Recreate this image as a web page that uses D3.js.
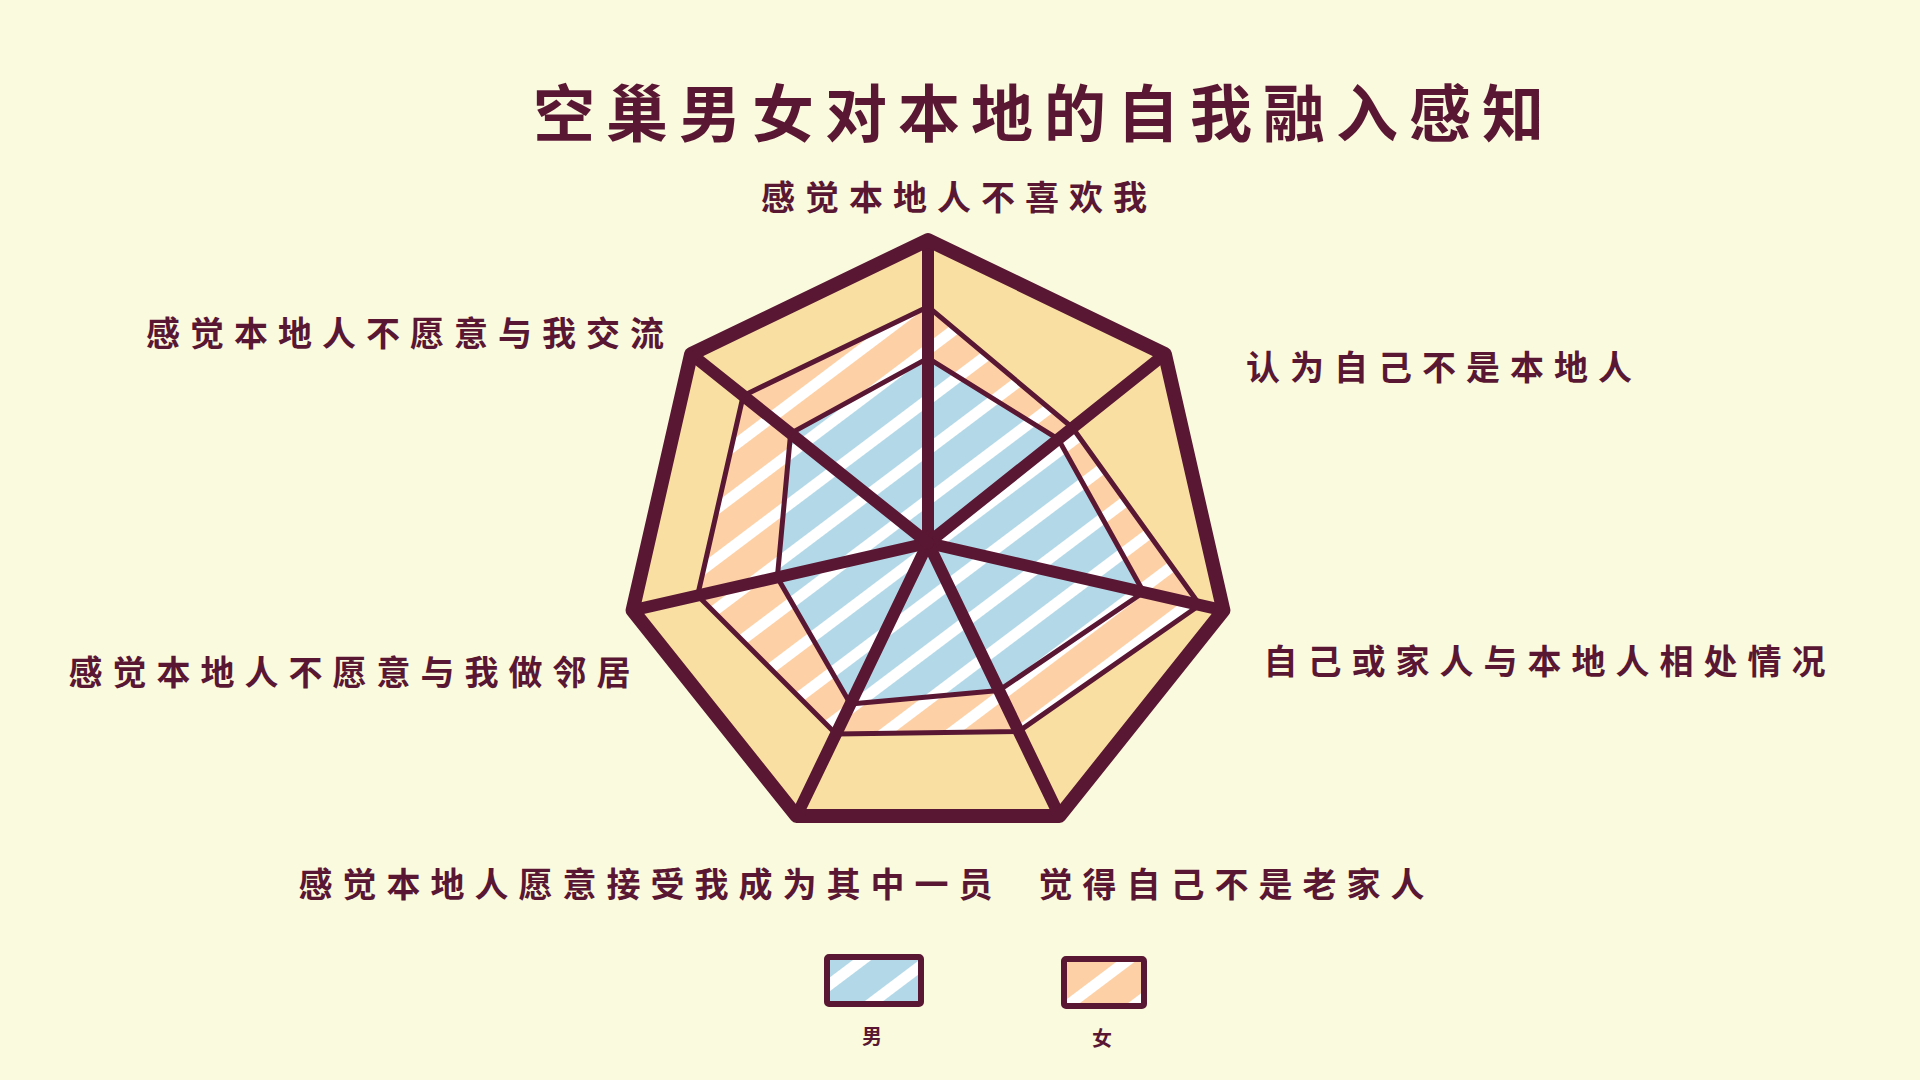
<!DOCTYPE html>
<html>
<head>
<meta charset="utf-8">
<title>空巢男女对本地的自我融入感知</title>
<style>
  body { margin: 0; padding: 0; background: #fafadf; }
  svg { display: block; }
  text { font-family: "Noto Sans CJK SC", "Noto Sans", sans-serif; fill: #5a1733; font-weight: 700; }
</style>
</head>
<body>
<div id="chart"></div>
<script src="https://d3js.org/d3.v7.min.js"></script>
<script>
// axes, clockwise from the top
const axes = [
  "感觉本地人不喜欢我",
  "认为自己不是本地人",
  "自己或家人与本地人相处情况",
  "觉得自己不是老家人",
  "感觉本地人愿意接受我成为其中一员",
  "感觉本地人不愿意与我做邻居",
  "感觉本地人不愿意与我交流"
];
const maleValues = [3.05, 2.75, 3.65, 2.7, 2.95, 2.55, 2.9];
const femaleValues = [3.9, 3.05, 4.6, 3.45, 3.5, 3.9, 3.9];
const maxValue = 5;
const seriesNames = ["男", "女"];
const title = "空巢男女对本地的自我融入感知";

// layout
const width = 1920, height = 1080;
const cx = 928, cy = 543, R = 303;
const ink = "#5a1733";
// label nudges from each outer vertex: [dx, dy, anchor]
const labelNudge = [
  [26, -45, "middle"],
  [81, 11, "start"],
  [40, 49, "start"],
  [-21, 67, "start"],
  [196, 67, "end"],
  [-2, 60, "end"],
  [-27, -23, "end"]
];
const labelSpacing = 10;

const svg = d3.select("#chart").append("svg")
  .attr("width", width)
  .attr("height", height);

svg.append("rect").attr("width", width).attr("height", height).attr("fill", "#fafadf");

// striped fills
const defs = svg.append("defs");
function stripes(id, color) {
  const p = defs.append("pattern")
    .attr("id", id)
    .attr("patternUnits", "userSpaceOnUse")
    .attr("width", 40).attr("height", 40)
    .attr("patternTransform", "rotate(-37)");
  p.append("rect").attr("width", 40).attr("height", 40).attr("fill", color);
  p.append("rect").attr("y", 0).attr("width", 40).attr("height", 11).attr("fill", "#ffffff");
}
stripes("maleFill", "#b3d9e8");
stripes("femaleFill", "#fdd0a6");

// scales
const angle = d3.scaleLinear().domain([0, axes.length]).range([0, 2 * Math.PI]);
const r = d3.scaleLinear().domain([0, maxValue]).range([0, R]);

const radial = d3.lineRadial()
  .angle((d, i) => angle(i))
  .radius(d => r(d))
  .curve(d3.curveLinearClosed);

const g = svg.append("g").attr("transform", `translate(${cx},${cy})`);
const outer = axes.map(() => maxValue);

// outer area
g.append("path")
  .attr("d", radial(outer))
  .attr("fill", "#f9e0a2");

// series areas
g.append("path")
  .attr("d", radial(femaleValues))
  .attr("fill", "url(#femaleFill)")
  .attr("stroke", ink)
  .attr("stroke-width", 5)
  .attr("stroke-linejoin", "round");

g.append("path")
  .attr("d", radial(maleValues))
  .attr("fill", "url(#maleFill)")
  .attr("stroke", ink)
  .attr("stroke-width", 5)
  .attr("stroke-linejoin", "round");

// spokes
g.selectAll("line.spoke")
  .data(axes)
  .join("line")
  .attr("class", "spoke")
  .attr("x1", 0).attr("y1", 0)
  .attr("x2", (d, i) => r(maxValue) * Math.sin(angle(i)))
  .attr("y2", (d, i) => -r(maxValue) * Math.cos(angle(i)))
  .attr("stroke", ink)
  .attr("stroke-width", 12)
  .attr("stroke-linecap", "round");

// outer border
g.append("path")
  .attr("d", radial(outer))
  .attr("fill", "none")
  .attr("stroke", ink)
  .attr("stroke-width", 14)
  .attr("stroke-linejoin", "round");

// axis labels
g.selectAll("text.axis")
  .data(axes)
  .join("text")
  .attr("class", "axis")
  .attr("x", (d, i) => r(maxValue) * Math.sin(angle(i)) + labelNudge[i][0]
    + (labelNudge[i][2] === "end" ? labelSpacing : labelNudge[i][2] === "middle" ? labelSpacing / 2 : 0))
  .attr("y", (d, i) => -r(maxValue) * Math.cos(angle(i)) + labelNudge[i][1])
  .attr("text-anchor", (d, i) => labelNudge[i][2])
  .attr("dominant-baseline", "central")
  .attr("font-size", 34)
  .attr("letter-spacing", labelSpacing)
  .text(d => d);

// title
svg.append("text")
  .attr("x", 1039 + 5)
  .attr("y", 110)
  .attr("text-anchor", "middle")
  .attr("dominant-baseline", "central")
  .attr("font-size", 62)
  .attr("letter-spacing", 11)
  .text(title);

// legend
const legendBoxes = [
  { x: 827, y: 957, w: 94, h: 47, fill: "url(#maleFill)" },
  { x: 1064, y: 959, w: 80, h: 47, fill: "url(#femaleFill)" }
];
const legend = svg.append("g").selectAll("g")
  .data(seriesNames)
  .join("g");

legend.append("rect")
  .attr("x", (d, i) => legendBoxes[i].x)
  .attr("y", (d, i) => legendBoxes[i].y)
  .attr("width", (d, i) => legendBoxes[i].w)
  .attr("height", (d, i) => legendBoxes[i].h)
  .attr("rx", 2)
  .attr("fill", (d, i) => legendBoxes[i].fill)
  .attr("stroke", ink)
  .attr("stroke-width", 6);

legend.append("text")
  .attr("x", (d, i) => legendBoxes[i].x + legendBoxes[i].w / 2 - 2)
  .attr("y", (d, i) => legendBoxes[i].y + 78)
  .attr("text-anchor", "middle")
  .attr("dominant-baseline", "central")
  .attr("font-size", 20)
  .text(d => d);
</script>
</body>
</html>
